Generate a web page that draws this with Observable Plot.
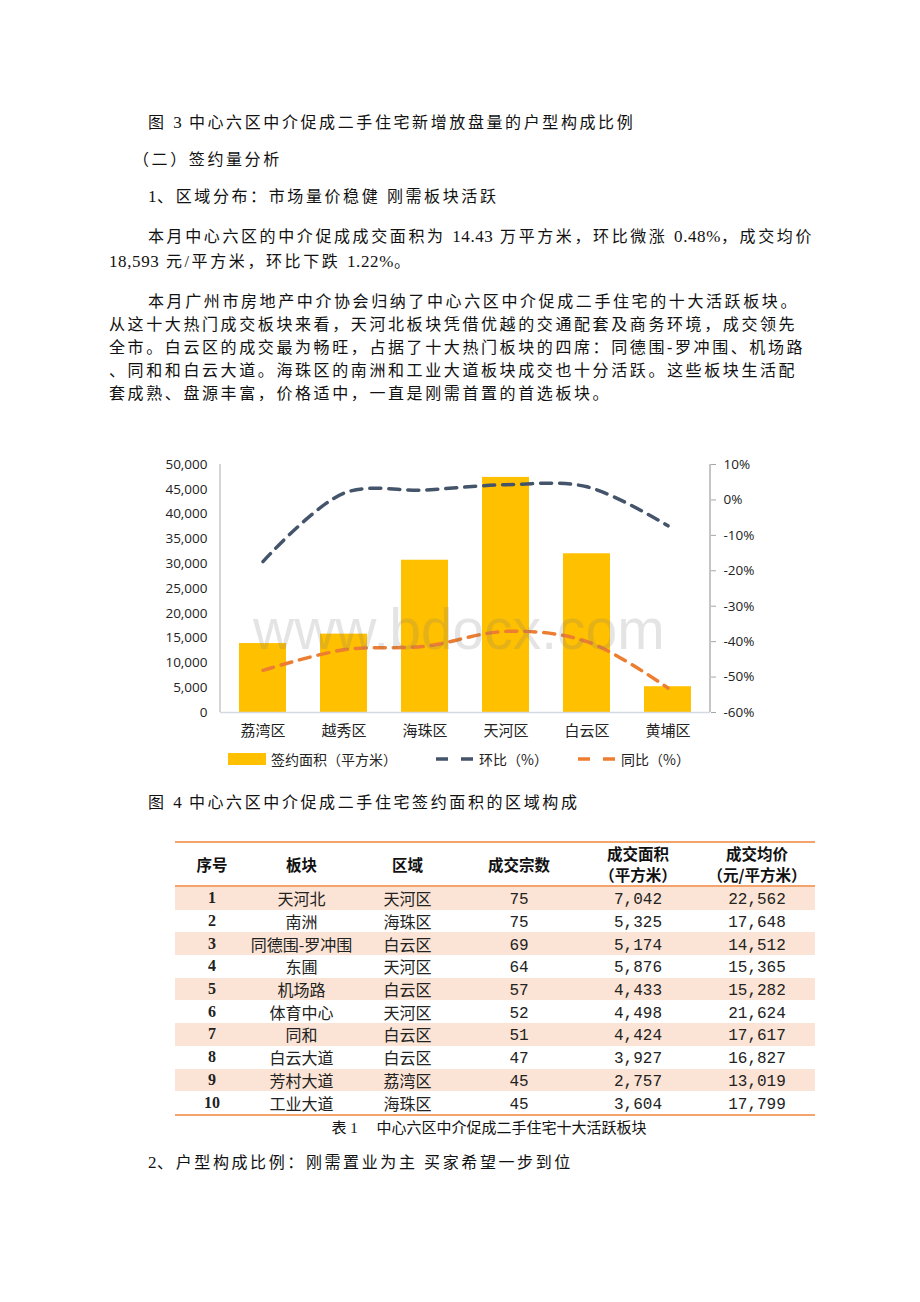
<!DOCTYPE html>
<html><head><meta charset="utf-8">
<script src="https://cdn.jsdelivr.net/npm/d3@7"></script>
<script src="https://cdn.jsdelivr.net/npm/@observablehq/plot@0.6"></script>
<style>
html,body{margin:0;padding:0;background:#fff;}
#page{position:relative;width:920px;height:1302px;overflow:hidden;font-family:"Liberation Serif","Noto Sans CJK SC",serif;color:#111;}
.t{position:absolute;white-space:pre;font-size:16px;letter-spacing:2.6px;line-height:18px;}
.t .l{letter-spacing:0.6px;font-size:17px;}
#chart{position:absolute;left:150px;top:452px;}
#wm{position:absolute;left:253px;top:596px;font-family:"Liberation Sans",Arial,sans-serif;font-size:57px;color:rgba(120,120,120,0.2);white-space:pre;pointer-events:none;}
#legend{position:absolute;left:0;top:749px;width:920px;height:20px;font-family:"Noto Sans CJK SC",sans-serif;font-size:14px;color:#222;}
#legend .it{position:absolute;top:0;height:20px;line-height:20px;white-space:pre;}
table{position:absolute;left:175px;top:841px;border-collapse:collapse;table-layout:fixed;width:640px;font-family:"Noto Sans CJK SC",sans-serif;}
th{font-weight:bold;font-size:15.5px;line-height:21px;height:42px;padding:0;border-top:2px solid #F4A46A;border-bottom:2px solid #F4A46A;color:#111;}
td{height:22.7px;padding:0;text-align:center;font-size:16px;line-height:20px;color:#222;}
td.no{font-family:"Liberation Serif",serif;font-weight:bold;font-size:16px;}
td.num{font-family:"Liberation Mono",monospace;font-size:16px;color:#222;}
td.num span{position:relative;top:2px;}
tr.odd td{background:#FBE4D5;}
tr.last td{border-bottom:2px solid #F4A46A;}
#cap1{position:absolute;left:0;width:978px;top:1118px;text-align:center;font-size:15px;line-height:20px;white-space:pre;font-family:"Liberation Serif","Noto Sans CJK SC",serif;color:#111;}
</style></head>
<body><div id="page"></div>
<script>
// ---- chart data ----
const districts = ["荔湾区","越秀区","海珠区","天河区","白云区","黄埔区"];
const area = [13900, 15800, 30700, 47400, 32000, 5200];      // 签约面积（平方米）
const mom = [-17.4, 1.9, 2.8, 4.3, 3.7, -7.3];                // 环比（%）
const yoy = [-48.1, -42.3, -41.3, -37.1, -40.0, -53.1];       // 同比（%）
const areaTicks = [0,5000,10000,15000,20000,25000,30000,35000,40000,45000,50000];
const pctTicks = [10,0,-10,-20,-30,-40,-50,-60];
const seriesNames = ["签约面积（平方米）","环比（%）","同比（%）"];

// ---- table data ----
const tblHead = ["序号","板块","区域","成交宗数","成交面积\n（平方米）","成交均价\n（元/平方米）"];
const tblNo = [1,2,3,4,5,6,7,8,9,10];
const tblBlock = ["天河北","南洲","同德围-罗冲围","东圃","机场路","体育中心","同和","白云大道","芳村大道","工业大道"];
const tblDistrict = ["天河区","海珠区","白云区","天河区","白云区","天河区","白云区","白云区","荔湾区","海珠区"];
const tblCount = [75,75,69,64,57,52,51,47,45,45];
const tblArea = [7042,5325,5174,5876,4433,4498,4424,3927,2757,3604];
const tblPrice = [22562,17648,14512,15365,15282,21624,17617,16827,13019,17799];
const tblCaption = "表 1　 中心六区中介促成二手住宅十大活跃板块";

// ---- text ----
const textLines = [
  {s:"图 3 中心六区中介促成二手住宅新增放盘量的户型构成比例", x:148, y:123},
  {s:"（二）签约量分析", x:133, y:160},
  {s:"1、区域分布：市场量价稳健 刚需板块活跃", x:148, y:197},
  {s:"本月中心六区的中介促成成交面积为 14.43 万平方米，环比微涨 0.48%，成交均价", x:148, y:237},
  {s:"18,593 元/平方米，环比下跌 1.22%。", x:109, y:262},
  {s:"本月广州市房地产中介协会归纳了中心六区中介促成二手住宅的十大活跃板块。", x:148, y:302},
  {s:"从这十大热门成交板块来看，天河北板块凭借优越的交通配套及商务环境，成交领先", x:109, y:325},
  {s:"全市。白云区的成交最为畅旺，占据了十大热门板块的四席：同德围-罗冲围、机场路", x:109, y:348},
  {s:"、同和和白云大道。海珠区的南洲和工业大道板块成交也十分活跃。这些板块生活配", x:109, y:371},
  {s:"套成熟、盘源丰富，价格适中，一直是刚需首置的首选板块。", x:109, y:394},
  {s:"图 4 中心六区中介促成二手住宅签约面积的区域构成", x:148, y:803},
  {s:"2、户型构成比例：刚需置业为主 买家希望一步到位", x:148, y:1163}
];

const page = document.getElementById("page");
const esc = s => s.replace(/&/g,"&amp;").replace(/</g,"&lt;");
for (const L of textLines) {
  const d = document.createElement("div");
  d.className = "t";
  d.style.left = L.x + "px";
  d.style.top = (L.y - 9) + "px";
  d.innerHTML = esc(L.s).replace(/([0-9][0-9.,%]*)/g, '<span class="l">$1</span>');
  page.appendChild(d);
}

// ---- chart ----
const yMax = 50000, pMin = -60, pMax = 10;
const toY = p => (p - pMin) / (pMax - pMin) * yMax;
const rows = districts.map((d, i) => ({d, area: area[i], mom: toY(mom[i]), yoy: toY(yoy[i])}));

const chart = Plot.plot({
  width: 640, height: 295,
  marginLeft: 70, marginRight: 80, marginTop: 12, marginBottom: 35,
  style: {fontFamily: "'Open Sans','Noto Sans CJK SC',sans-serif", fontSize: "13.5px", color: "#222", background: "transparent", overflow: "visible"},
  x: {type: "band", domain: districts, paddingInner: 0.42, paddingOuter: 0.21, label: null},
  y: {domain: [0, yMax], label: null},
  marks: [
    Plot.barY(rows, {x: "d", y: "area", fill: "#FFC000"}),
    Plot.ruleY([0], {stroke: "#D3DAE4", strokeWidth: 1.4}),
    Plot.axisY({anchor: "left", ticks: areaTicks, tickFormat: d3.format(","), tickSize: 0, tickPadding: 13, label: null, fontSize: 13.5}),
    Plot.axisY({anchor: "right", ticks: pctTicks.map(toY), tickFormat: v => Math.round(v / yMax * (pMax - pMin) + pMin) + "%", tickSize: 5, tickPadding: 8, stroke: "#A6A6A6", label: null, fontSize: 13.5}),
    Plot.axisX({tickSize: 0, tickPadding: 13, fontSize: 15, label: null, fontFamily: "'Noto Sans CJK SC',sans-serif"}),
    Plot.line(rows, {x: "d", y: "mom", curve: "catmull-rom", stroke: "#44546A", strokeWidth: 3.5, strokeDasharray: "11,8"}),
    Plot.line(rows, {x: "d", y: "yoy", curve: "catmull-rom", stroke: "#ED7D31", strokeWidth: 3.5, strokeDasharray: "11,8"})
  ]
});
chart.id = "chart";
// axis domain lines drawn from the plot's own scales
const xs = chart.scale("x"), ys = chart.scale("y");
const svg = d3.select(chart);
svg.append("line").attr("x1", xs.range[0]).attr("x2", xs.range[0]).attr("y1", ys.range[0]).attr("y2", ys.range[1]).attr("stroke", "#BFBFBF").attr("stroke-width", 1.3);
svg.append("line").attr("x1", xs.range[1]).attr("x2", xs.range[1]).attr("y1", ys.range[0]).attr("y2", ys.range[1]).attr("stroke", "#A6A6A6").attr("stroke-width", 1.3);
page.appendChild(chart);

const wm = document.createElement("div");
wm.id = "wm"; wm.textContent = "www.bdocx.com";
page.appendChild(wm);

// legend
const lg = document.createElement("div");
lg.id = "legend";
lg.innerHTML =
  `<div class="it" style="left:228px;top:4px;width:38px;height:12px;background:#FFC000"></div>` +
  `<div class="it" style="left:271px">${seriesNames[0]}</div>` +
  `<svg class="it" style="left:435px" width="40" height="20"><line x1="1" x2="39" y1="10" y2="10" stroke="#44546A" stroke-width="3.5" stroke-dasharray="12,13"/></svg>` +
  `<div class="it" style="left:479px">${seriesNames[1]}</div>` +
  `<svg class="it" style="left:577px" width="40" height="20"><line x1="1" x2="39" y1="10" y2="10" stroke="#ED7D31" stroke-width="3.5" stroke-dasharray="12,13"/></svg>` +
  `<div class="it" style="left:621px">${seriesNames[2]}</div>`;
page.appendChild(lg);

// table
const fmt = d3.format(",");
let html = "<table><colgroup><col style='width:74px'><col style='width:105px'><col style='width:107px'><col style='width:116px'><col style='width:122px'><col style='width:116px'></colgroup><tr>";
for (const h of tblHead) html += `<th>${h.split("\n").join("<br>")}</th>`;
html += "</tr>";
tblNo.forEach((n, i) => {
  const cls = (i % 2 === 0 ? "odd" : "") + (i === tblNo.length - 1 ? " last" : "");
  html += `<tr class="${cls}"><td class="no">${n}</td><td>${tblBlock[i]}</td><td>${tblDistrict[i]}</td><td class="num"><span>${tblCount[i]}</span></td><td class="num"><span>${fmt(tblArea[i])}</span></td><td class="num"><span>${fmt(tblPrice[i])}</span></td></tr>`;
});
html += "</table>";
const tw = document.createElement("div");
tw.innerHTML = html;
page.appendChild(tw.firstChild);
const cap = document.createElement("div");
cap.id = "cap1"; cap.textContent = tblCaption;
page.appendChild(cap);
</script>
</body></html>
